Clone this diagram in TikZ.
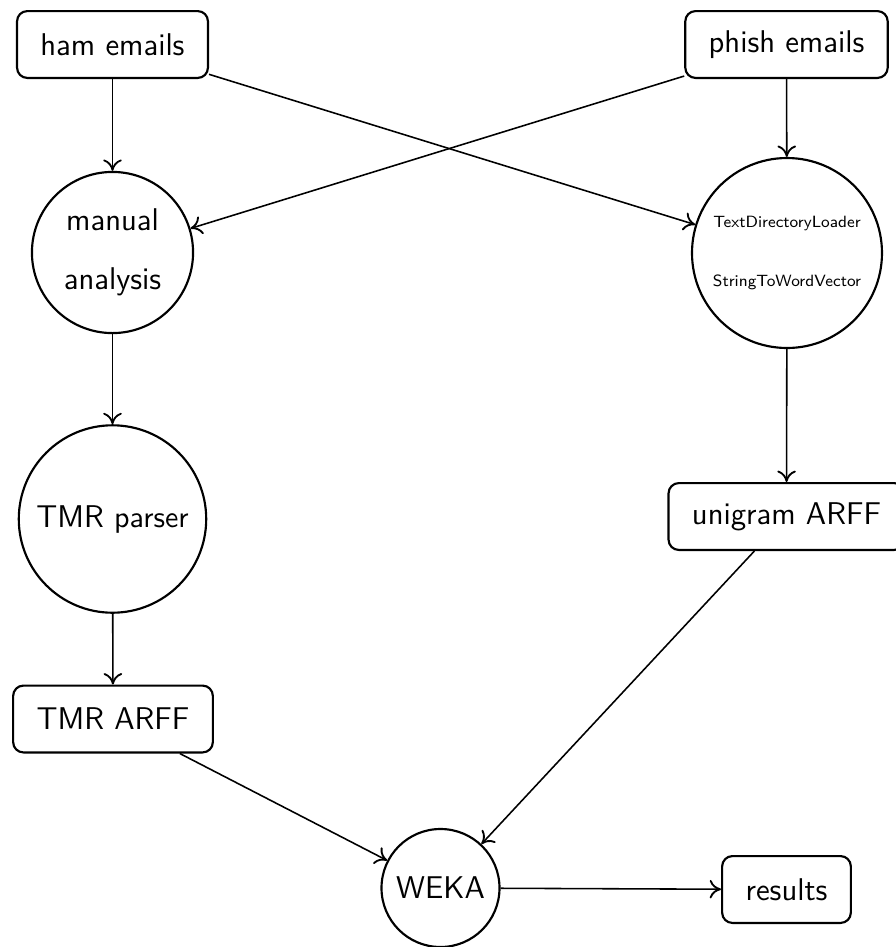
\documentclass[tikz,border=0pt]{standalone}
\usetikzlibrary{arrows.meta}
\begin{document}
\begin{tikzpicture}[x=0.35pt,y=-0.35pt,
  every node/.style={font=\sffamily\fontsize{11}{13}\selectfont},
  databox/.style={draw,line width=0.75pt,rounded corners=3.6pt,
    inner xsep=8.2pt,inner ysep=0pt,minimum height=23.4pt},
  procnode/.style={draw,circle,line width=0.75pt,inner sep=0pt,align=center},
  flow/.style={line width=0.55pt,-{Computer Modern Rightarrow[length=4pt,width=6.5pt,line width=0.65pt]}}]
\clip (0,0) rectangle (896,947);
\useasboundingbox (0,0) rectangle (896,947);

% sources
\node[databox] (ham) at (112.5,44.5) {ham emails};
\node[databox] (phish) at (786.5,44.5) {phish emails};

% processing steps
\node[procnode,minimum size=56.4pt,
  font=\sffamily\fontsize{11}{20.5}\selectfont] (manual) at (112.5,252.5) {manual\\analysis};
\node[procnode,minimum size=66.5pt,
  font=\sffamily\fontsize{5.7}{20.6}\selectfont] (loader) at (787,253) {TextDirectoryLoader\\StringToWordVector};
\node[procnode,minimum size=65.6pt] (parser) at (112.5,519) {TMR {\fontsize{10.5}{12}\selectfont parser}};

% feature files
\node[databox] (uniarff) at (786.5,516.5) {unigram ARFF};
\node[databox] (tmrarff) at (113,719) {TMR ARFF};

% classifier and output
\node[procnode,minimum size=41.3pt] (weka) at (440.5,888) {WEKA};
\node[databox] (results) at (786.5,889.5) {results};

% connectors
\draw[flow] (ham) -- (manual);
\draw[flow] (ham) -- (loader);
\draw[flow] (phish) -- (manual);
\draw[flow] (phish) -- (loader);
\draw[flow] (manual) -- (parser);
\draw[flow] (parser) -- (tmrarff);
\draw[flow] (loader) -- (uniarff);
\draw[flow] (tmrarff) -- (weka);
\draw[flow] (uniarff) -- (weka);
\draw[flow] (weka) -- (results);
\end{tikzpicture}
\end{document}
